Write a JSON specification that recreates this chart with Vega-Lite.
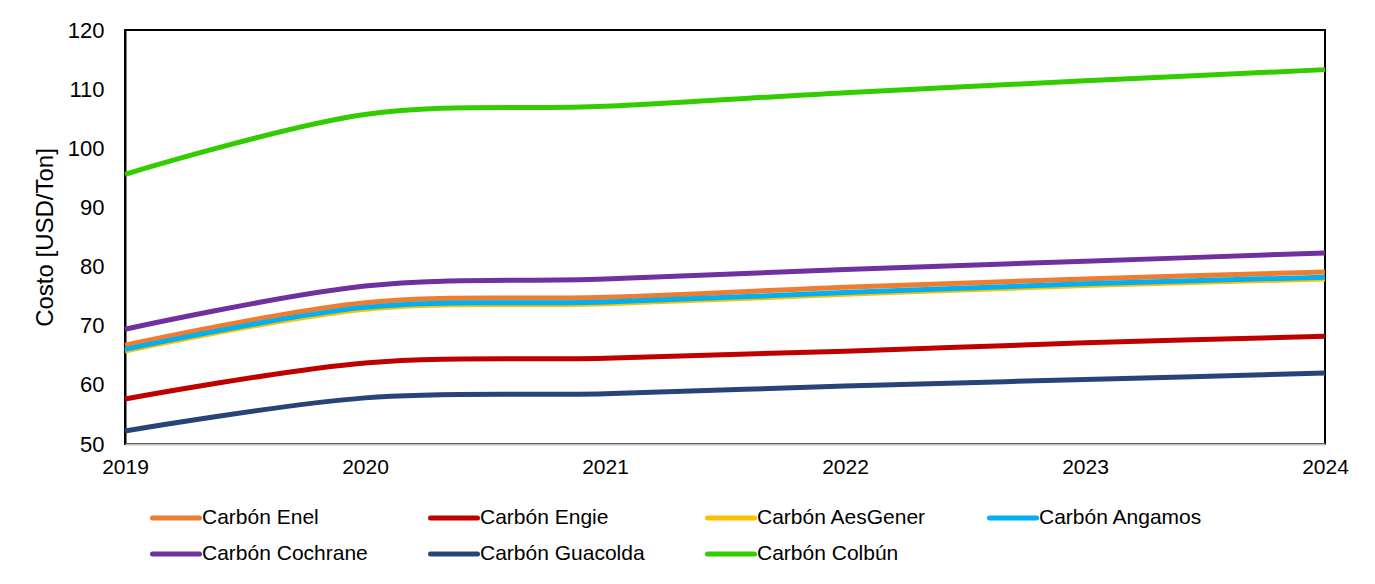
{
  "$schema": "https://vega.github.io/schema/vega-lite/v6.json",
  "width": 1200,
  "height": 414,
  "autosize": "none",
  "padding": {"left": 125, "top": 30, "right": 50, "bottom": 140},
  "background": "white",
  "config": {
    "font": "Liberation Sans",
    "view": {"stroke": "#000000", "strokeWidth": 2},
    "axis": {"labelColor": "#000000", "titleColor": "#000000", "grid": false, "ticks": false, "labelFont": "Liberation Sans", "titleFont": "Liberation Sans"}
  },
  "data": {
    "values": [
      {"serie": "Carbón Enel", "anio": 2019, "costo": 66.7},
      {"serie": "Carbón Enel", "anio": 2020, "costo": 73.9},
      {"serie": "Carbón Enel", "anio": 2021, "costo": 74.8},
      {"serie": "Carbón Enel", "anio": 2022, "costo": 76.5},
      {"serie": "Carbón Enel", "anio": 2023, "costo": 77.9},
      {"serie": "Carbón Enel", "anio": 2024, "costo": 79.1},
      {"serie": "Carbón Engie", "anio": 2019, "costo": 57.6},
      {"serie": "Carbón Engie", "anio": 2020, "costo": 63.7},
      {"serie": "Carbón Engie", "anio": 2021, "costo": 64.5},
      {"serie": "Carbón Engie", "anio": 2022, "costo": 65.7},
      {"serie": "Carbón Engie", "anio": 2023, "costo": 67.1},
      {"serie": "Carbón Engie", "anio": 2024, "costo": 68.2},
      {"serie": "Carbón AesGener", "anio": 2019, "costo": 65.7},
      {"serie": "Carbón AesGener", "anio": 2020, "costo": 72.8},
      {"serie": "Carbón AesGener", "anio": 2021, "costo": 73.7},
      {"serie": "Carbón AesGener", "anio": 2022, "costo": 75.3},
      {"serie": "Carbón AesGener", "anio": 2023, "costo": 76.8},
      {"serie": "Carbón AesGener", "anio": 2024, "costo": 77.9},
      {"serie": "Carbón Angamos", "anio": 2019, "costo": 66.0},
      {"serie": "Carbón Angamos", "anio": 2020, "costo": 73.1},
      {"serie": "Carbón Angamos", "anio": 2021, "costo": 74.0},
      {"serie": "Carbón Angamos", "anio": 2022, "costo": 75.6},
      {"serie": "Carbón Angamos", "anio": 2023, "costo": 77.1},
      {"serie": "Carbón Angamos", "anio": 2024, "costo": 78.2},
      {"serie": "Carbón Cochrane", "anio": 2019, "costo": 69.4},
      {"serie": "Carbón Cochrane", "anio": 2020, "costo": 76.7},
      {"serie": "Carbón Cochrane", "anio": 2021, "costo": 77.9},
      {"serie": "Carbón Cochrane", "anio": 2022, "costo": 79.5},
      {"serie": "Carbón Cochrane", "anio": 2023, "costo": 80.9},
      {"serie": "Carbón Cochrane", "anio": 2024, "costo": 82.3},
      {"serie": "Carbón Guacolda", "anio": 2019, "costo": 52.2},
      {"serie": "Carbón Guacolda", "anio": 2020, "costo": 57.8},
      {"serie": "Carbón Guacolda", "anio": 2021, "costo": 58.5},
      {"serie": "Carbón Guacolda", "anio": 2022, "costo": 59.8},
      {"serie": "Carbón Guacolda", "anio": 2023, "costo": 60.9},
      {"serie": "Carbón Guacolda", "anio": 2024, "costo": 62.0},
      {"serie": "Carbón Colbún", "anio": 2019, "costo": 95.6},
      {"serie": "Carbón Colbún", "anio": 2020, "costo": 105.7},
      {"serie": "Carbón Colbún", "anio": 2021, "costo": 107.1},
      {"serie": "Carbón Colbún", "anio": 2022, "costo": 109.4},
      {"serie": "Carbón Colbún", "anio": 2023, "costo": 111.4},
      {"serie": "Carbón Colbún", "anio": 2024, "costo": 113.3}
    ]
  },
  "mark": {"type": "line", "strokeWidth": 5, "interpolate": "cardinal", "tension": 0},
  "encoding": {
    "x": {
      "field": "anio", "type": "quantitative",
      "scale": {"domain": [2019, 2024], "nice": false, "zero": false},
      "axis": {"title": null, "values": [2019, 2020, 2021, 2022, 2023, 2024], "format": "d", "labelFontSize": 21, "labelPadding": 12, "domainColor": "#BFBFBF", "domainWidth": 2, "zindex": 1, "labelFlush": false}
    },
    "y": {
      "field": "costo", "type": "quantitative",
      "scale": {"domain": [50, 120], "nice": false, "zero": false},
      "axis": {"title": "Costo [USD/Ton]", "values": [50, 60, 70, 80, 90, 100, 110, 120], "labelFontSize": 22, "labelPadding": 21, "titleFontSize": 24, "titleFontWeight": "normal", "titlePadding": 10, "domainColor": "#000000", "domainWidth": 2}
    },
    "color": {
      "field": "serie", "type": "nominal",
      "scale": {
        "domain": ["Carbón Enel", "Carbón Engie", "Carbón AesGener", "Carbón Angamos", "Carbón Cochrane", "Carbón Guacolda", "Carbón Colbún"],
        "range": ["#ED7D31", "#C00000", "#FFC000", "#00B0F0", "#7030A0", "#264478", "#33CC00"]
      },
      "legend": {
        "title": null,
        "orient": "none",
        "legendX": 25,
        "legendY": 462,
        "direction": "horizontal",
        "columns": 4,
        "columnPadding": 52,
        "rowPadding": -11,
        "symbolType": "stroke",
        "symbolSize": 2209,
        "symbolStrokeWidth": 5,
        "labelFontSize": 21,
        "labelColor": "#000000",
        "labelOffset": 0,
        "labelLimit": 400,
        "encode": {"symbols": {"update": {"strokeCap": {"value": "round"}}}}
      }
    }
  }
}
